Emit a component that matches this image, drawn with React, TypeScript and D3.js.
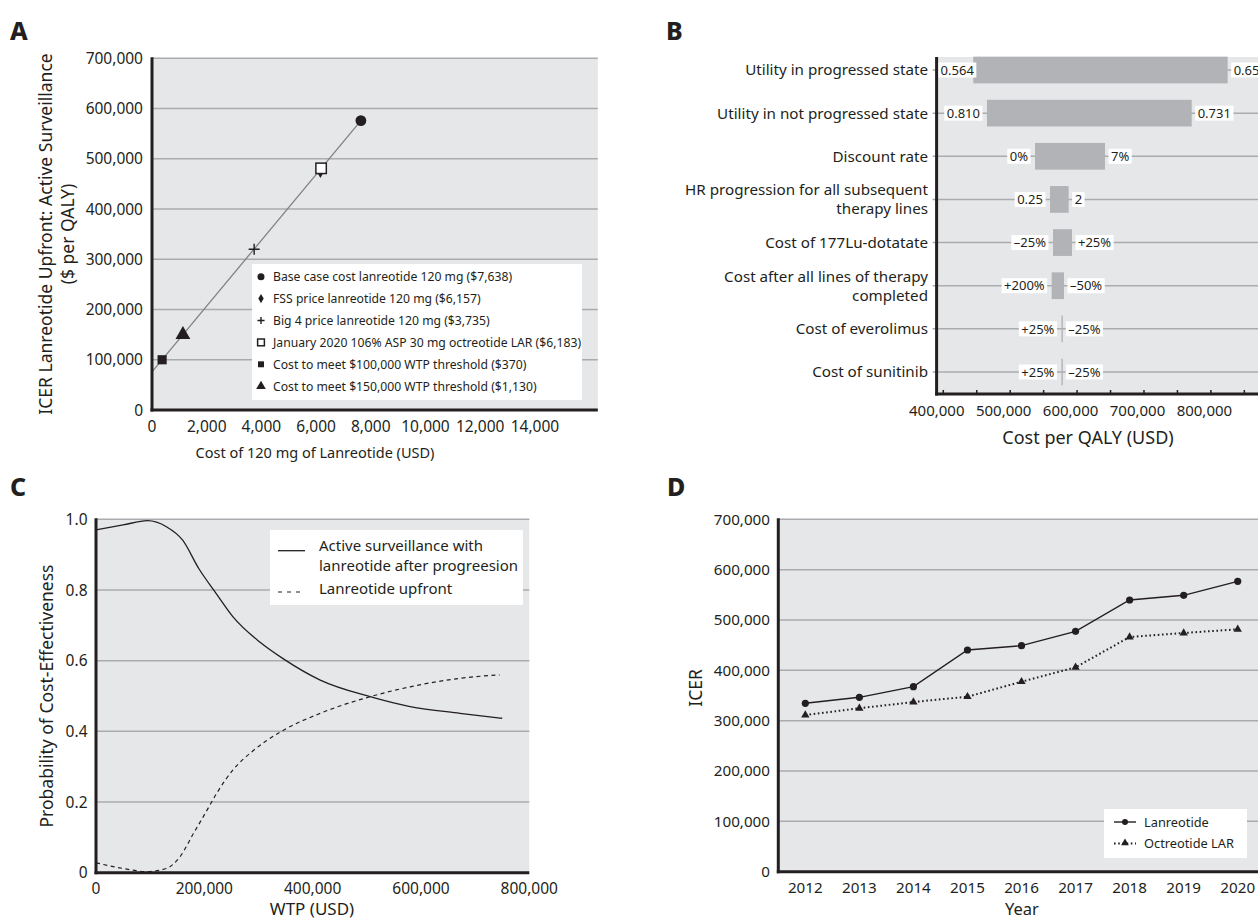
import React, { useLayoutEffect, useRef, useState } from 'react';
import * as d3 from 'd3';

const FONT = "'Noto Sans', 'Open Sans', sans-serif";
const BG = '#e6e7e8';
const GRID = '#a9abae';
const INK = '#231f20';

// ---------- Panel A data ----------
const aCosts = [7638, 6157, 3735, 6183, 370, 1130];
const aIcers = [576000, 476000, 320000, 481000, 100000, 150000];
const aSymbols = ['circle', 'diamond', 'plus', 'openSquare', 'square', 'triangle'];
const aLegend = [
  'Base case cost lanreotide 120 mg ($7,638)',
  'FSS price lanreotide 120 mg ($6,157)',
  'Big 4 price lanreotide 120 mg ($3,735)',
  'January 2020 106% ASP 30 mg octreotide LAR ($6,183)',
  'Cost to meet $100,000 WTP threshold ($370)',
  'Cost to meet $150,000 WTP threshold ($1,130)',
];
const aLineCosts = [0, 7638];
const aLineIcers = [76000, 576000];
const aXTicks = [0, 2000, 4000, 6000, 8000, 10000, 12000, 14000];
const aYTicks = [0, 100000, 200000, 300000, 400000, 500000, 600000, 700000];

// ---------- Panel B data ----------
const bParams = [
  ['Utility in progressed state'],
  ['Utility in not progressed state'],
  ['Discount rate'],
  ['HR progression for all subsequent', 'therapy lines'],
  ['Cost of 177Lu-dotatate'],
  ['Cost after all lines of therapy', 'completed'],
  ['Cost of everolimus'],
  ['Cost of sunitinib'],
];
const bLow = [444800, 465300, 537100, 559500, 564000, 562000, 576600, 576600];
const bHigh = [825100, 771300, 641700, 587400, 592400, 580400, 577900, 577900];
const bLowLabels = ['0.564', '0.810', '0%', '0.25', '\u201325%', '+200%', '+25%', '+25%'];
const bHighLabels = ['0.659', '0.731', '7%', '2', '+25%', '\u201350%', '\u201325%', '\u201325%'];
const bXTicks = [400000, 500000, 600000, 700000, 800000];
const bMinorTicks = [400000, 450000, 500000, 550000, 600000, 650000, 700000, 750000, 800000, 850000];

// ---------- Panel C data ----------
const cSolidWtp = [0, 50000, 95000, 130000, 160000, 190000, 222000, 253000, 303000, 346000, 414000, 506000, 580000, 672000, 750000];
const cSolidProb = [0.970, 0.984, 0.996, 0.979, 0.941, 0.860, 0.790, 0.724, 0.652, 0.605, 0.545, 0.498, 0.470, 0.451, 0.437];
const cDashWtp = [0, 50000, 93000, 130000, 155000, 180000, 205000, 223000, 253000, 290000, 339000, 414000, 506000, 580000, 672000, 745000];
const cDashProb = [0.028, 0.012, 0.003, 0.012, 0.045, 0.111, 0.177, 0.225, 0.291, 0.345, 0.397, 0.451, 0.498, 0.526, 0.550, 0.560];
const cXTicks = [0, 200000, 400000, 600000, 800000];
const cYTicks = [0, 0.2, 0.4, 0.6, 0.8, 1.0];

// ---------- Panel D data ----------
const dYears = [2012, 2013, 2014, 2015, 2016, 2017, 2018, 2019, 2020];
const dLanreotide = [334500, 346400, 367500, 440400, 449000, 477500, 539700, 549000, 576800];
const dOctreotide = [311300, 324600, 337100, 347600, 377400, 406000, 466200, 474200, 481500];
const dYTicks = [0, 100000, 200000, 300000, 400000, 500000, 600000, 700000];

const fmt = d3.format(',');

function Marker({ kind, x, y, s = 1 }: { kind: string; x: number; y: number; s?: number }) {
  if (kind === 'plus') {
    const h = 5.5 * s;
    return <path d={`M${x - h},${y}H${x + h}M${x},${y - h}V${y + h}`} stroke={INK} strokeWidth={1.4} fill="none" />;
  }
  if (kind === 'openSquare') {
    const h = 5.2 * s;
    return <rect x={x - h} y={y - h} width={2 * h} height={2 * h} fill="#fff" stroke={INK} strokeWidth={1.5} />;
  }
  const map: any = { circle: d3.symbolCircle, diamond: d3.symbolDiamond, square: d3.symbolSquare, triangle: d3.symbolTriangle };
  const size: any = { circle: 92, diamond: 60, square: 84, triangle: 95 };
  const p = d3.symbol().type(map[kind]).size(size[kind] * s * s)();
  return <path d={p || ''} transform={`translate(${x},${y})`} fill={INK} />;
}

function BoxedLabel({ x, y, text, anchor, minLeft }: { x: number; y: number; text: string; anchor: 'start' | 'end'; minLeft?: number }) {
  const ref = useRef<SVGTextElement>(null);
  const [w, setW] = useState(text.length * 7);
  useLayoutEffect(() => {
    if (ref.current) setW(ref.current.getComputedTextLength());
  }, [text]);
  const pad = 2.5;
  let tx = x;
  if (anchor === 'end' && minLeft !== undefined && x - w - pad < minLeft) tx = minLeft + w + pad;
  const rx = anchor === 'end' ? tx - w - pad : tx - pad;
  return (
    <g>
      <rect x={rx} y={y - 7.5} width={w + 2 * pad} height={15} fill="#fff" />
      <text ref={ref} x={tx} y={y} dy="0.36em" textAnchor={anchor} fontSize={13} fill={INK}>
        {text}
      </text>
    </g>
  );
}

function PanelA() {
  const x = d3.scaleLinear().domain([0, 16300]).range([152, 152 + 16300 * 0.02735]);
  const y = d3.scaleLinear().domain([0, 700000]).range([410, 58.3]);
  const line = d3.line<number>().x((_, i) => x(aLineCosts[i])).y((d) => y(d));
  const [x0, x1] = x.range();
  const legX = 252, legY = 264, legW = 330, legH = 136;
  return (
    <g>
      <rect x={x0} y={y(700000)} width={x1 - x0} height={y(0) - y(700000)} fill={BG} />
      {aYTicks.filter((t) => t > 0).map((t) => (
        <line key={t} x1={x0} x2={x1} y1={y(t)} y2={y(t)} stroke={GRID} strokeWidth={1.5} />
      ))}
      <path d={line(aLineIcers) || ''} stroke="#808285" strokeWidth={1.3} fill="none" />
      {aCosts.map((c, i) => (
        <Marker key={i} kind={aSymbols[i]} x={x(c)} y={y(aIcers[i])} />
      ))}
      <rect x={legX} y={legY} width={legW} height={legH} fill="#fff" />
      {aLegend.map((t, i) => (
        <g key={t}>
          <Marker kind={aSymbols[i]} x={legX + 9} y={legY + 12.7 + i * 21.9} s={0.65} />
          <text x={legX + 21} y={legY + 12.7 + i * 21.9} dy="0.36em" fontSize={12.2} fill={INK}>{t}</text>
        </g>
      ))}
      <line x1={x0} x2={x0} y1={y(700000) - 1} y2={y(0) + 1.5} stroke={INK} strokeWidth={3} />
      <line x1={x0 - 1.5} x2={x1} y1={y(0)} y2={y(0)} stroke={INK} strokeWidth={3} />
      {aYTicks.map((t) => (
        <text key={t} x={143} y={y(t)} dy="0.36em" textAnchor="end" fontSize={15.5} fill={INK}>{fmt(t)}</text>
      ))}
      {aXTicks.map((t) => (
        <text key={t} x={x(t)} y={432} textAnchor="middle" fontSize={15.5} fill={INK}>{fmt(t)}</text>
      ))}
      <text x={315} y={458} textAnchor="middle" fontSize={14.5} fill={INK}>Cost of 120 mg of Lanreotide (USD)</text>
      <text transform="translate(51.5,234) rotate(-90)" textAnchor="middle" fontSize={17.5} fill={INK}>ICER Lanreotide Upfront: Active Surveillance</text>
      <text transform="translate(73.5,234) rotate(-90)" textAnchor="middle" fontSize={17.5} fill={INK}>($ per QALY)</text>
      <text x={10} y={40} fontSize={25} fontWeight={800} fill={INK}>A</text>
    </g>
  );
}

function PanelB() {
  const x = d3.scaleLinear().domain([390000, 880000]).range([936.6, 936.6 + 490000 * 0.000669]);
  const y = d3.scalePoint<number>().domain(d3.range(bParams.length)).range([70, 372]);
  const top = 57, bottom = 394;
  const [x0, x1] = x.range();
  const barH = 26.7;
  return (
    <g>
      <rect x={x0} y={top} width={x1 - x0} height={bottom - top} fill={BG} />
      {bParams.map((_, i) => (
        <line key={i} x1={x0 - 4} x2={x1} y1={y(i)!} y2={y(i)!} stroke={GRID} strokeWidth={1.5} />
      ))}
      {bLow.map((lo, i) => {
        const hi = bHigh[i];
        const w = Math.max(x(hi) - x(lo), 1.4);
        return <rect key={i} x={x(lo)} y={y(i)! - barH / 2} width={w} height={barH} fill="#b1b3b6" />;
      })}
      {bLow.map((lo, i) => (
        <BoxedLabel key={'l' + i} x={x(lo) - 7} y={y(i)!} text={bLowLabels[i]} anchor="end" minLeft={x0 + 1.5} />
      ))}
      {bHigh.map((hi, i) => (
        <BoxedLabel key={'h' + i} x={x(Math.max(hi, bLow[i])) + 6} y={y(i)!} text={bHighLabels[i]} anchor="start" />
      ))}
      <line x1={x0} x2={x0} y1={top} y2={bottom + 1.5} stroke={INK} strokeWidth={3} />
      <line x1={x0 - 1.5} x2={x1} y1={bottom} y2={bottom} stroke={INK} strokeWidth={3} />
      {bMinorTicks.map((t) => (
        <line key={t} x1={x(t)} x2={x(t)} y1={bottom} y2={bottom - 4} stroke={INK} strokeWidth={1.5} />
      ))}
      {bXTicks.map((t) => (
        <text key={t} x={x(t) - 6.5} y={415.5} textAnchor="middle" fontSize={15} fill={INK}>{fmt(t)}</text>
      ))}
      <text x={1088} y={444} textAnchor="middle" fontSize={18} fill={INK}>Cost per QALY (USD)</text>
      {bParams.map((lines, i) => (
        <text key={i} x={928} y={y(i)!} textAnchor="end" fontSize={15.2} fill={INK}>
          {lines.map((l, j) => (
            <tspan key={j} x={928} dy={j === 0 ? `${0.36 - (lines.length - 1) * 0.63}em` : '1.26em'}>{l}</tspan>
          ))}
        </text>
      ))}
      <text x={666} y={40} fontSize={25} fontWeight={800} fill={INK}>B</text>
    </g>
  );
}

function PanelC() {
  const x = d3.scaleLinear().domain([0, 800000]).range([96, 529.3]);
  const y = d3.scaleLinear().domain([0, 1]).range([872.7, 519.3]);
  const [x0, x1] = x.range();
  const solid = d3.line<number>().x((_, i) => x(cSolidWtp[i])).y((d) => y(d)).curve(d3.curveMonotoneX);
  const dash = d3.line<number>().x((_, i) => x(cDashWtp[i])).y((d) => y(d)).curve(d3.curveMonotoneX);
  return (
    <g>
      <rect x={x0} y={y(1)} width={x1 - x0} height={y(0) - y(1)} fill={BG} />
      {cYTicks.filter((t) => t > 0).map((t) => (
        <line key={t} x1={x0} x2={x1} y1={y(t)} y2={y(t)} stroke={GRID} strokeWidth={1.5} />
      ))}
      <path d={solid(cSolidProb) || ''} fill="none" stroke={INK} strokeWidth={1.3} />
      <path d={dash(cDashProb) || ''} fill="none" stroke={INK} strokeWidth={1.2} strokeDasharray="4,3.5" />
      <rect x={270} y={530} width={253} height={75} fill="#fff" />
      <line x1={278} x2={305} y1={550.7} y2={550.7} stroke={INK} strokeWidth={1.3} />
      <line x1={278} x2={305} y1={592} y2={592} stroke={INK} strokeWidth={1.2} strokeDasharray="4,5" />
      <text x={319} y={546} dy="0.36em" fontSize={15} fill={INK}>Active surveillance with</text>
      <text x={319} y={566} dy="0.36em" fontSize={15} fill={INK}>lanreotide after progreesion</text>
      <text x={319} y={589} dy="0.36em" fontSize={15} fill={INK}>Lanreotide upfront</text>
      <line x1={x0} x2={x0} y1={y(1) - 1} y2={y(0) + 1.5} stroke={INK} strokeWidth={3} />
      <line x1={x0 - 1.5} x2={x1} y1={y(0)} y2={y(0)} stroke={INK} strokeWidth={3} />
      {cYTicks.map((t) => (
        <text key={t} x={87.5} y={y(t)} dy="0.36em" textAnchor="end" fontSize={15.5} fill={INK}>{t === 0 ? '0' : t.toFixed(1)}</text>
      ))}
      {cXTicks.map((t) => (
        <text key={t} x={x(t)} y={894} textAnchor="middle" fontSize={15.5} fill={INK}>{fmt(t)}</text>
      ))}
      <text x={312} y={915} textAnchor="middle" fontSize={17} fill={INK}>WTP (USD)</text>
      <text transform="translate(53,696) rotate(-90)" textAnchor="middle" fontSize={17.5} fill={INK}>Probability of Cost-Effectiveness</text>
      <text x={10} y={496} fontSize={25} fontWeight={800} fill={INK}>C</text>
    </g>
  );
}

function PanelD() {
  const x = d3.scaleLinear().domain([2011.5, 2020.5]).range([778.3, 778.3 + 9 * 54.05]);
  const y = d3.scaleLinear().domain([0, 700000]).range([871.7, 519.3]);
  const [x0, x1] = x.range();
  const line = d3.line<number>().x((_, i) => x(dYears[i])).y((d) => y(d));
  const tri = d3.symbol().type(d3.symbolTriangle).size(30)() || '';
  const triS = d3.symbol().type(d3.symbolTriangle).size(26)() || '';
  return (
    <g>
      <rect x={x0} y={y(700000)} width={x1 - x0} height={y(0) - y(700000)} fill={BG} />
      {dYTicks.filter((t) => t > 0).map((t) => (
        <line key={t} x1={x0} x2={x1} y1={y(t)} y2={y(t)} stroke={GRID} strokeWidth={1.5} />
      ))}
      <path d={line(dOctreotide) || ''} fill="none" stroke={INK} strokeWidth={2} strokeDasharray="1.6,2.6" />
      <path d={line(dLanreotide) || ''} fill="none" stroke={INK} strokeWidth={1.4} />
      {dYears.map((yr, i) => (
        <circle key={'l' + yr} cx={x(yr)} cy={y(dLanreotide[i])} r={3.6} fill={INK} />
      ))}
      {dYears.map((yr, i) => (
        <path key={'o' + yr} d={tri} transform={`translate(${x(yr)},${y(dOctreotide[i])})`} fill={INK} />
      ))}
      <rect x={1104} y={809} width={143} height={49} fill="#fff" />
      <line x1={1114} x2={1136} y1={822} y2={822} stroke={INK} strokeWidth={1.4} />
      <circle cx={1125} cy={822} r={3} fill={INK} />
      <line x1={1114} x2={1136} y1={843.5} y2={843.5} stroke={INK} strokeWidth={2} strokeDasharray="1.6,2.6" />
      <path d={triS} transform="translate(1125,843)" fill={INK} />
      <text x={1144} y={822} dy="0.36em" fontSize={12.8} fill={INK}>Lanreotide</text>
      <text x={1144} y={843.5} dy="0.36em" fontSize={12.8} fill={INK}>Octreotide LAR</text>
      <line x1={x0} x2={x0} y1={y(700000) - 1} y2={y(0) + 1.5} stroke={INK} strokeWidth={3} />
      <line x1={x0 - 1.5} x2={x1} y1={y(0)} y2={y(0)} stroke={INK} strokeWidth={3} />
      {dYTicks.map((t) => (
        <text key={t} x={770} y={y(t)} dy="0.36em" textAnchor="end" fontSize={15.2} fill={INK}>{fmt(t)}</text>
      ))}
      {dYears.map((yr) => (
        <text key={yr} x={x(yr)} y={892.5} textAnchor="middle" fontSize={15.2} fill={INK}>{yr}</text>
      ))}
      <text x={1022} y={915} textAnchor="middle" fontSize={16.5} fill={INK}>Year</text>
      <text transform="translate(701.5,688) rotate(-90)" textAnchor="middle" fontSize={17.5} fill={INK}>ICER</text>
      <text x={667} y={496} fontSize={25} fontWeight={800} fill={INK}>D</text>
    </g>
  );
}

export default function App() {
  return (
    <svg
      width={1258}
      height={922}
      viewBox="0 0 1258 922"
      style={{ position: 'absolute', left: 0, top: 0, background: '#fff', fontFamily: FONT }}
    >
      <rect width={1258} height={922} fill="#fff" />
      <PanelA />
      <PanelB />
      <PanelC />
      <PanelD />
    </svg>
  );
}
